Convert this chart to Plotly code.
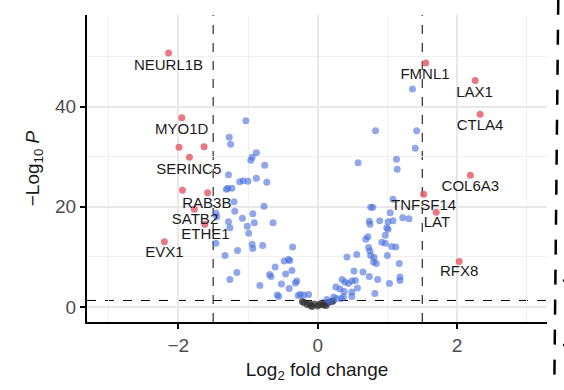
import plotly.graph_objects as go

# Significant genes (|log2FC| > 1.5), labelled
sig_genes = ["NEURL1B", "MYO1D", "SERINC5", "RAB3B", "SATB2", "ETHE1", "EVX1",
             "FMNL1", "LAX1", "CTLA4", "COL6A3", "TNFSF14", "LAT", "RFX8"]
sig_fc = [-2.14, -1.95, -1.84, -1.58, -1.77, -1.62, -2.20,
          1.55, 2.26, 2.33, 2.19, 1.52, 1.70, 2.03]
sig_p = [50.7, 37.8, 29.9, 22.8, 19.5, 16.5, 13.0,
         48.7, 45.2, 38.5, 26.3, 22.5, 18.9, 9.1]
# Label placement (log2FC, -log10 P)
label_fc = [-2.14, -1.95, -1.85, -1.59, -1.76, -1.61, -2.20,
            1.54, 2.25, 2.33, 2.19, 1.52, 1.71, 2.03]
label_p = [48.1, 35.3, 27.3, 20.5, 17.3, 14.3, 10.7,
           46.3, 42.7, 36.0, 24.0, 20.2, 16.8, 6.9]

# Other significant genes without labels
sig_extra_fc = [-1.99, -1.63, -1.94]
sig_extra_p = [31.9, 32.0, 23.3]

# P-significant genes below the fold-change cutoff
mid_fc = [-1.03, -1.27, -1.25, -0.88, -0.96, -0.94, -0.76, -1.28, -1.12, -1.07,
          -1.00, -0.88, -0.73, -1.31, -1.29, -1.23, -0.77, -1.20, -1.19, -1.46,
          -1.45, -1.28, -1.08, -0.93, -1.26, -1.01, -0.91, -0.64, -0.99, -1.46,
          -0.94, -0.93, -0.79, -1.15, -1.33, -0.36, -0.48, -0.42, -0.40, -0.61,
          -0.46, -0.37, -0.69, -0.67, -1.16, -1.26, -0.83, -0.52, -0.30, -0.32,
          -0.41, -0.58, -0.56, -0.25, -0.20, -0.13, -0.28,
          1.36, 0.83, 1.42, 1.40, 0.58, 1.13, 1.14, 1.08, 0.76, 0.79,
          1.04, 1.22, 1.31, 0.74, 0.75, 0.89, 1.01, 1.08, 0.99, 1.01,
          0.72, 0.69, 0.97, 0.92, 0.97, 1.06, 1.12, 0.73, 0.75, 0.56,
          0.42, 0.76, 0.81, 1.00, 0.80, 0.84, 1.17, 0.52, 0.65, 0.74,
          0.86, 1.03, 1.18, 1.18, 0.35, 0.39, 0.44, 0.49, 0.54, 0.26,
          0.32, 0.57, 0.38, 0.49, 0.82, 0.23, 0.27, 0.34, 0.37, 0.13,
          0.18, 0.49]
mid_p = [37.2, 33.9, 32.5, 30.8, 29.3, 29.9, 28.3, 26.4, 25.0, 25.2,
         25.1, 25.7, 24.9, 23.5, 23.7, 23.7, 20.1, 21.0, 19.1, 18.7,
         18.0, 17.0, 17.7, 18.6, 15.8, 16.1, 16.8, 16.8, 14.7, 12.7,
         12.5, 11.7, 12.3, 11.3, 10.3, 12.0, 9.2, 9.5, 9.3, 8.0,
         6.6, 7.3, 6.5, 6.1, 6.9, 5.5, 4.3, 4.6, 5.2, 4.8,
         3.7, 2.4, 2.1, 2.5, 2.4, 2.5, 2.3,
         43.5, 35.2, 35.2, 31.7, 28.8, 29.5, 27.5, 21.5, 19.9, 19.9,
         18.8, 17.8, 17.6, 17.1, 16.5, 17.2, 17.0, 17.2, 15.8, 15.5,
         14.0, 13.5, 14.3, 12.9, 12.7, 12.1, 12.0, 11.9, 11.2, 10.5,
         10.0, 10.3, 9.9, 10.3, 9.0, 8.7, 8.7, 7.2, 7.0, 6.1,
         5.5, 4.7, 6.0, 5.3, 5.5, 5.0, 4.7, 5.2, 5.3, 4.0,
         3.6, 3.8, 3.1, 3.0, 2.7, 2.0, 1.7, 1.7, 2.0, 1.5,
         1.0, 2.1]

# Non-significant genes
ns_fc = [-0.20, -0.15, -0.10, -0.05, 0.00, 0.02, 0.06, 0.10, 0.15, 0.20,
         0.22, -0.22, 0.08, -0.08, -0.12, 0.12]
ns_p = [0.9, 0.5, 0.3, 0.6, 0.2, 0.5, 0.8, 0.6, 0.9, 1.1,
        1.2, 1.1, 0.4, 0.1, 0.7, 0.3]

FC_CUT = 1.5
P_CUT = 1.3

X_TICKS = [-2, 0, 2]
X_TICK_TEXT = ["\u22122", "0", "2"]
Y_TICKS = [0, 20, 40]

FONT = "Liberation Sans, Arial, Helvetica, sans-serif"

fig = go.Figure()

fig.add_trace(go.Scatter(
    x=ns_fc, y=ns_p, mode="markers",
    marker=dict(size=7, color="rgba(50,50,50,0.7)", line=dict(width=0)),
    hoverinfo="skip", showlegend=False))

fig.add_trace(go.Scatter(
    x=mid_fc, y=mid_p, mode="markers",
    marker=dict(size=7, color="rgba(70,110,220,0.6)", line=dict(width=0)),
    hoverinfo="skip", showlegend=False))

fig.add_trace(go.Scatter(
    x=sig_fc + sig_extra_fc, y=sig_p + sig_extra_p, mode="markers",
    marker=dict(size=7, color="rgba(228,86,100,0.8)", line=dict(width=0)),
    hoverinfo="skip", showlegend=False))

fig.add_trace(go.Scatter(
    x=label_fc, y=label_p, mode="text", text=sig_genes,
    textfont=dict(family=FONT, size=15, color="#1a1a1a"),
    hoverinfo="skip", showlegend=False))

# Cutoff lines
for xv in (-FC_CUT, FC_CUT):
    fig.add_shape(type="line", xref="x", yref="paper", x0=xv, x1=xv, y0=0, y1=1,
                  line=dict(color="black", width=1, dash="dash"), layer="below")
fig.add_shape(type="line", xref="paper", yref="y", x0=0, x1=1, y0=P_CUT, y1=P_CUT,
              line=dict(color="black", width=1, dash="dash"), layer="below")

# Dashed frame edge at the right
fig.add_shape(type="line", xref="paper", yref="paper", x0=1.0245, x1=1.0158,
              y0=1.05, y1=-0.22, line=dict(color="black", width=2.5, dash="longdash"))
for yy in (0.135, -0.075):
    fig.add_shape(type="circle", xref="paper", yref="paper",
                  x0=1.0345, x1=1.038, y0=yy - 0.004, y1=yy + 0.004,
                  fillcolor="black", line=dict(width=0))

axis_common = dict(
    showline=True, linecolor="black", linewidth=2,
    ticks="outside", ticklen=5, tickwidth=2, tickcolor="black",
    tickfont=dict(family=FONT, size=19, color="#4d4d4d"),
    showgrid=True, gridcolor="#e8e8e8", gridwidth=2,
    zeroline=False, mirror=False,
)

fig.update_layout(
    width=564, height=390,
    margin=dict(l=87, r=17, t=15, b=68),
    paper_bgcolor="white", plot_bgcolor="white",
    font=dict(family=FONT, color="#1a1a1a"),
    xaxis=dict(
        range=[-3.31, 3.29], tickvals=X_TICKS, ticktext=X_TICK_TEXT,
        minor=dict(tickvals=[-3, -1, 1, 3], showgrid=True, gridcolor="#f0f0f0",
                   gridwidth=1, ticks=""),
        title=dict(text="Log<sub>2</sub> fold change",
                   font=dict(family=FONT, size=19, color="#1a1a1a"), standoff=8),
        **axis_common),
    yaxis=dict(
        range=[-3, 58.3], tickvals=Y_TICKS,
        minor=dict(tickvals=[10, 30, 50], showgrid=True, gridcolor="#f0f0f0",
                   gridwidth=1, ticks=""),
        title=dict(text="\u2212Log<sub>10</sub> <i>P</i>",
                   font=dict(family=FONT, size=19, color="#1a1a1a"), standoff=10),
        **axis_common),
)

fig.write_html("out.html")
